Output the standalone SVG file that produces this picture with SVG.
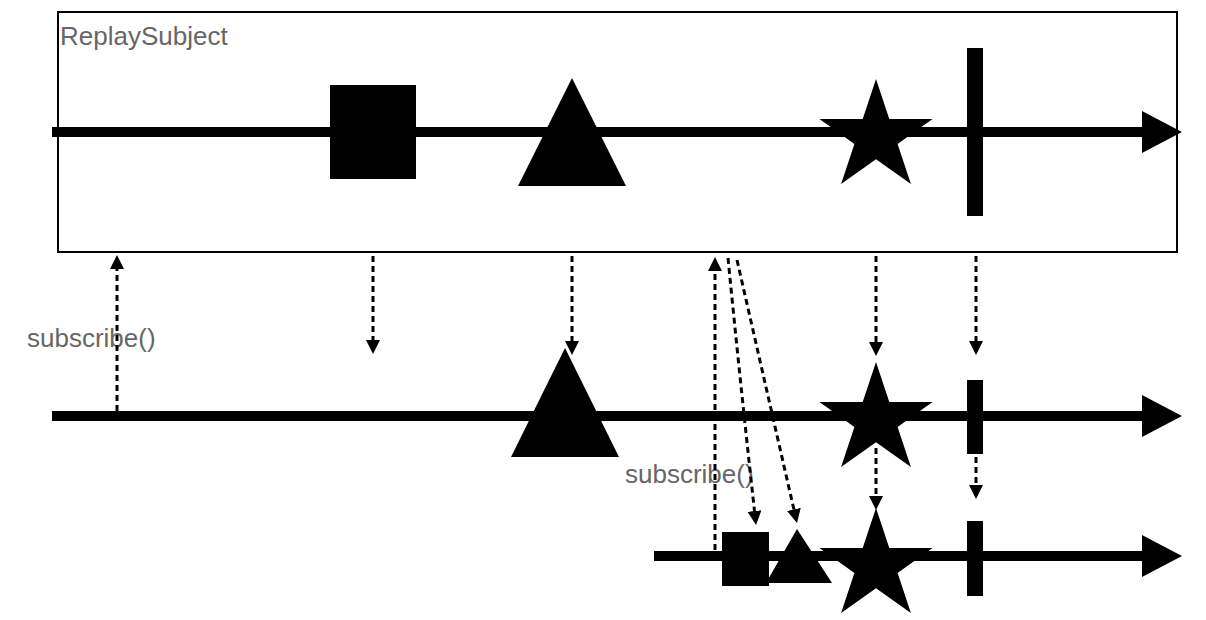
<svg xmlns="http://www.w3.org/2000/svg" width="1206" height="620" viewBox="0 0 1206 620">
  <style>
    .lbl { font-family: "Liberation Sans", Arial, sans-serif; font-size: 26px; fill: #666666; }
    .timeline { stroke: #000; stroke-width: 10; fill: none; }
    .dash { stroke: #000; stroke-width: 3; stroke-dasharray: 6 4; fill: none; marker-end: url(#ah); }
    .solid { fill: #000; stroke: none; }
  </style>
  <defs>
    <marker id="ah" viewBox="0 0 14 14" refX="0" refY="7" markerWidth="14" markerHeight="14" markerUnits="userSpaceOnUse" orient="auto">
      <path d="M0,0 L14,7 L0,14 Z" fill="#000"/>
    </marker>
    <path id="star" d="M0,-58 L13.3,-18 L56.5,-17.9 L21.6,6.9 L34.9,46.9 L0,22.2 L-34.9,46.9 L-21.6,6.9 L-56.5,-17.9 L-13.3,-18 Z"/>
  </defs>

  <g id="replay-subject">
    <rect x="58" y="12" width="1119" height="240" fill="#fff" stroke="#000" stroke-width="2"/>
    <text class="lbl" x="60" y="45">ReplaySubject</text>
  </g>

  <g id="timeline-1">
    <line class="timeline" x1="52" y1="132" x2="1143" y2="132"/>
    <polygon class="solid" points="1142,111 1182,132 1142,153"/>
  </g>
  <g id="timeline-2">
    <line class="timeline" x1="52" y1="416" x2="1143" y2="416"/>
    <polygon class="solid" points="1142,395 1182,416 1142,437"/>
  </g>
  <g id="timeline-3">
    <line class="timeline" x1="654" y1="556" x2="1143" y2="556"/>
    <polygon class="solid" points="1142,535 1182,556 1142,577"/>
  </g>

  <g id="square-1"><rect class="solid" x="330" y="85" width="86" height="94"/></g>
  <g id="triangle-1"><polygon class="solid" points="572,78 626,186 518,186"/></g>
  <g id="star-1"><use href="#star" class="solid" transform="translate(876,137)"/></g>
  <g id="complete-1"><rect class="solid" x="967" y="48" width="16" height="168"/></g>

  <g id="triangle-2"><polygon class="solid" points="565,348 619,457 511,457"/></g>
  <g id="star-2"><use href="#star" class="solid" transform="translate(876,420)"/></g>
  <g id="complete-2"><rect class="solid" x="967" y="380" width="16" height="74"/></g>

  <g id="square-3"><rect class="solid" x="722" y="532" width="47" height="54"/></g>
  <g id="triangle-3"><polygon class="solid" points="797,529 832,583 766,583"/></g>
  <g id="star-3"><use href="#star" class="solid" transform="translate(876,566)"/></g>
  <g id="complete-3"><rect class="solid" x="967" y="521" width="16" height="75"/></g>

  <g id="label-subscribe-1"><text class="lbl" x="27" y="347">subscribe()</text></g>
  <g id="label-subscribe-2"><text class="lbl" x="625" y="483">subscribe()</text></g>

  <g id="connectors">
    <line class="dash" x1="117" y1="411" x2="117" y2="269"/>
    <line class="dash" x1="373" y1="256" x2="373" y2="340"/>
    <line class="dash" x1="572" y1="256" x2="572" y2="341"/>
    <line class="dash" x1="876" y1="256" x2="876" y2="342"/>
    <line class="dash" x1="976" y1="256" x2="976" y2="341"/>
    <line class="dash" x1="715" y1="550" x2="715" y2="271"/>
    <path class="dash" d="M728,258 Q740,380 754.5,511"/>
    <path class="dash" d="M737,260 L793.9,509.4"/>
    <line class="dash" x1="876" y1="448" x2="876" y2="496"/>
    <line class="dash" x1="976" y1="457" x2="976" y2="485"/>
  </g>
</svg>
